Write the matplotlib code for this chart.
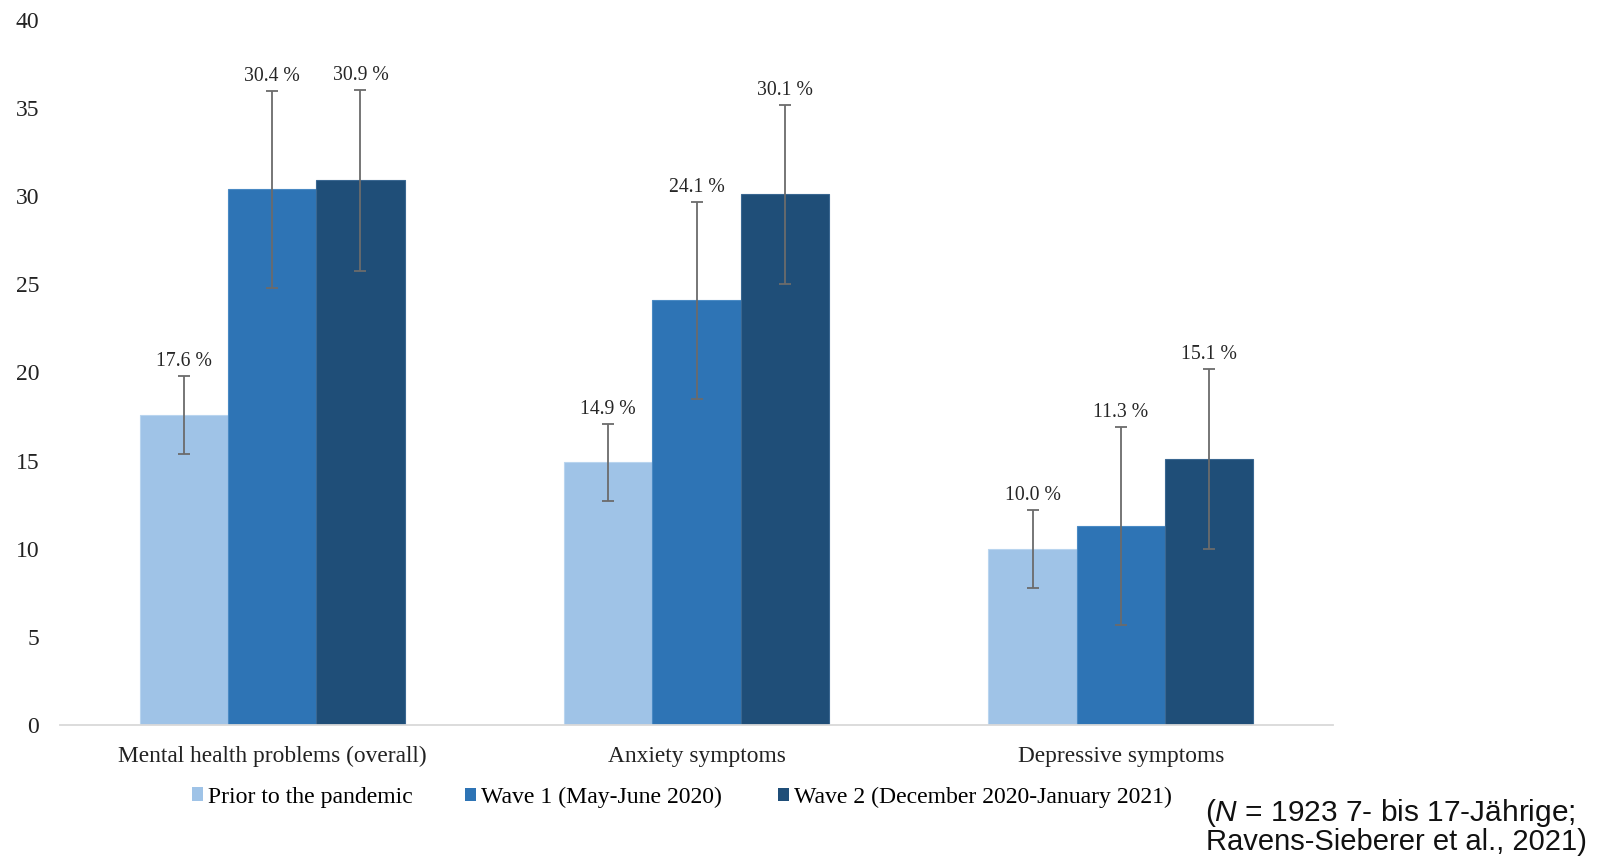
import matplotlib
matplotlib.use("Agg")
import matplotlib.pyplot as plt
import numpy as np

plt.rcParams["mathtext.fontset"] = "custom"
plt.rcParams["mathtext.rm"] = "Liberation Sans"
plt.rcParams["mathtext.it"] = "Liberation Sans:italic"

categories = ["Mental health problems (overall)", "Anxiety symptoms", "Depressive symptoms"]
series_names = ["Prior to the pandemic", "Wave 1 (May-June 2020)", "Wave 2 (December 2020-January 2021)"]
prior = [17.6, 14.9, 10.0]
wave1 = [30.4, 24.1, 11.3]
wave2 = [30.9, 30.1, 15.1]
err_prior = [2.2, 2.2, 2.2]
err_wave1 = [5.6, 5.6, 5.6]
err_wave2 = [5.15, 5.1, 5.1]
yticks = [0, 5, 10, 15, 20, 25, 30, 35, 40]

colors = ["#9fc3e7", "#2e74b5", "#1f4e78"]
edges = ["#b9d5ef", "#4a8ac4", "#3a6791"]
serif = "Liberation Serif"

W, H = 1602, 856
fig = plt.figure(figsize=(W / 100, H / 100), dpi=100)
ax = fig.add_axes([60 / W, 131 / H, 1273 / W, 705 / H])

x = np.arange(len(categories))
width = 0.208
values = [prior, wave1, wave2]
errors = [err_prior, err_wave1, err_wave2]
handles = []
for i, (vals, errs) in enumerate(zip(values, errors)):
    pos = x + (i - 1) * width
    b = ax.bar(pos, vals, width, color=colors[i], edgecolor=edges[i], linewidth=0.8,
               label=series_names[i], zorder=2)
    handles.append(b)
    ax.errorbar(pos, vals, yerr=errs, fmt="none", ecolor="#6b6b6b", elinewidth=1.3,
                capsize=4.5, capthick=1.3, zorder=3)
    for p, v, e in zip(pos, vals, errs):
        ax.annotate(f"{v:.1f} %", (p, v + e), xytext=(0, 3.5), textcoords="offset points",
                    ha="center", va="bottom", fontsize=14.2, family=serif, color="#262626")

ax.set_xlim(-0.5, 2.5)
ax.set_ylim(0, 40)
ax.set_yticks(yticks)
ax.set_yticklabels([str(t) for t in yticks], family=serif, fontsize=17, color="#222222")
ax.set_xticks(x)
ax.set_xticklabels(categories, family=serif, fontsize=16.8, color="#222222")
ax.tick_params(axis="y", length=0, pad=15)
ax.tick_params(axis="x", length=0, pad=15)
for s in ["top", "right", "left"]:
    ax.spines[s].set_visible(False)
ax.spines["bottom"].set_color("#d9d9d9")
ax.spines["bottom"].set_linewidth(1.3)

# one legend entry per series, each anchored at its own left edge
legend_x = [192, 465, 778]
for h, name, lx in zip(handles, series_names, legend_x):
    leg = fig.legend(handles=[h], labels=[name], loc="center left",
                     bbox_to_anchor=(lx / W, 1 - 797 / H), frameon=False,
                     prop={"family": serif, "size": 17.1}, borderpad=0, borderaxespad=0,
                     handlelength=0.48, handleheight=0.48, handletextpad=0.2)
    for lh in leg.legend_handles:
        lh.set_linewidth(0)

fig.text(1205 / W, 1 - 821 / H, r"($\it{N}$ = 1923 7- bis 17-Jährige;",
         family="Liberation Sans", fontsize=21.5, ha="left", va="baseline", color="#111111")
fig.text(1206 / W, 1 - 850 / H, "Ravens-Sieberer et al., 2021)",
         family="Liberation Sans", fontsize=21, ha="left", va="baseline", color="#111111")

fig.savefig("out.png", dpi=100, facecolor="white")
